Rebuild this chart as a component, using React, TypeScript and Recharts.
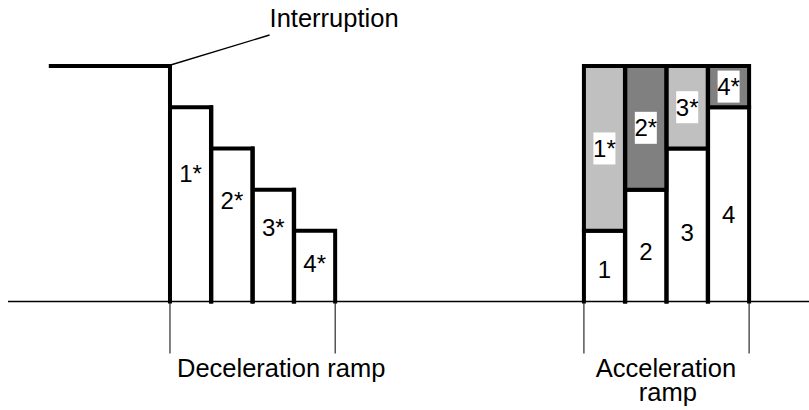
import React from 'react';
import { BarChart, Bar, XAxis, YAxis } from 'recharts';

// ---- data ----
const FULL_LEVEL = 100;
const PRE_SLOTS = ['p1', 'p2', 'p3'];
const DECEL_SLOTS = ['d1', 'd2', 'd3', 'd4'];
const GAP_SLOTS = ['g1', 'g2', 'g3', 'g4', 'g5', 'g6'];
const ACCEL_SLOTS = ['a1', 'a2', 'a3', 'a4'];

const DECEL_VALUES = [82.5, 65, 47.5, 30];
const DECEL_LABELS = ['1*', '2*', '3*', '4*'];

const ACCEL_BASE_VALUES = [30, 47.5, 65, 82.5];
const ACCEL_TOP_VALUES = [70, 52.5, 35, 17.5];
const ACCEL_BASE_LABELS = ['1', '2', '3', '4'];
const ACCEL_TOP_LABELS = ['1*', '2*', '3*', '4*'];
const ACCEL_TOP_SHADES = ['#c0c0c0', '#808080', '#c0c0c0', '#808080'];

const INTERRUPTION_LABEL = 'Interruption';
const DECEL_TITLE = 'Deceleration ramp';
const ACCEL_TITLE = ['Acceleration', 'ramp'];

type Row = {
  slot: string;
  role: 'pre' | 'decel' | 'gap' | 'accel';
  pos: number;
  count: number;
  level: number | null;
  decel: number | null;
  accelBase: number | null;
  accelTop: number | null;
};

const rows: Row[] = [
  ...PRE_SLOTS.map((s, i) => ({ slot: s, role: 'pre' as const, pos: i, count: PRE_SLOTS.length, level: FULL_LEVEL, decel: null, accelBase: null, accelTop: null })),
  ...DECEL_SLOTS.map((s, i) => ({ slot: s, role: 'decel' as const, pos: i, count: DECEL_SLOTS.length, level: null, decel: DECEL_VALUES[i], accelBase: null, accelTop: null })),
  ...GAP_SLOTS.map((s, i) => ({ slot: s, role: 'gap' as const, pos: i, count: GAP_SLOTS.length, level: null, decel: null, accelBase: null, accelTop: null })),
  ...ACCEL_SLOTS.map((s, i) => ({ slot: s, role: 'accel' as const, pos: i, count: ACCEL_SLOTS.length, level: null, decel: null, accelBase: ACCEL_BASE_VALUES[i], accelTop: ACCEL_TOP_VALUES[i] })),
];

// ---- styles ----
const FONT = '"Liberation Sans", Arial, Helvetica, sans-serif';
const THICK = 4;
const SMALL = 24;
const BIG = 25.5;
const BRACKET = 52;

const LevelShape = (p: any) => {
  const { x, y, width, height, payload } = p;
  if (!payload || payload.level == null || !height) return null;
  const last = payload.pos === payload.count - 1;
  const cx = x + width;
  const startX = payload.pos === 0 ? x + 3 : x - 1;
  return (
    <g>
      <path d={`M${startX},${y}H${x + width + (last ? 0 : 1)}`} stroke="#000" strokeWidth={THICK} fill="none" strokeLinecap="butt" />
      {last && (
        <g>
          <line x1={cx + 1} y1={y - 1} x2={cx + 100} y2={y - 31} stroke="#000" strokeWidth={1.4} />
          <text x={cx + 100} y={y - 39} fontFamily={FONT} fontSize={BIG} fill="#000">
            {INTERRUPTION_LABEL}
          </text>
        </g>
      )}
    </g>
  );
};

const DecelShape = (p: any) => {
  const { x, y, width, height, payload } = p;
  if (!payload || payload.decel == null || !height) return null;
  const base = y + height;
  const k = height / payload.decel;
  const prev = payload.pos === 0 ? FULL_LEVEL : DECEL_VALUES[payload.pos - 1];
  const leftTop = base - Math.max(prev, payload.decel) * k;
  const labelY = Math.max(y + 0.34 * height, y + 33);
  return (
    <g>
      <path
        d={`M${x},${base}V${leftTop}M${x},${y}H${x + width}V${base}`}
        stroke="#000"
        strokeWidth={THICK}
        fill="none"
        strokeLinecap="square"
        strokeLinejoin="miter"
      />
      <text x={x + width / 2} y={labelY + 0.358 * SMALL} textAnchor="middle" fontFamily={FONT} fontSize={SMALL} fill="#000">
        {DECEL_LABELS[payload.pos]}
      </text>
      {payload.pos === 0 && (
        <g>
          <line x1={x} y1={base} x2={x} y2={base + BRACKET} stroke="#000" strokeWidth={1} />
          <text x={x + 7} y={base + 75.5} fontFamily={FONT} fontSize={BIG} fill="#000">
            {DECEL_TITLE}
          </text>
        </g>
      )}
      {payload.pos === payload.count - 1 && (
        <line x1={x + width} y1={base} x2={x + width} y2={base + BRACKET} stroke="#000" strokeWidth={1} />
      )}
    </g>
  );
};

const AccelBaseShape = (p: any) => {
  const { x, y, width, height, payload } = p;
  if (!payload || payload.accelBase == null || !height) return null;
  const base = y + height;
  const groupW = width * payload.count;
  return (
    <g>
      <rect x={x} y={y} width={width} height={height} fill="#fff" />
      <path
        d={`M${x},${base}V${y}H${x + width}V${base}`}
        stroke="#000"
        strokeWidth={THICK}
        fill="none"
        strokeLinecap="square"
        strokeLinejoin="miter"
      />
      <text x={x + width / 2} y={y + 0.55 * height + 0.358 * SMALL} textAnchor="middle" fontFamily={FONT} fontSize={SMALL} fill="#000">
        {ACCEL_BASE_LABELS[payload.pos]}
      </text>
      {payload.pos === 0 && (
        <g>
          <line x1={x} y1={base} x2={x} y2={base + BRACKET} stroke="#000" strokeWidth={1} />
          <text x={x + groupW / 2} y={base + 75} textAnchor="middle" fontFamily={FONT} fontSize={BIG} fill="#000">
            {ACCEL_TITLE[0]}
          </text>
          <text x={x + groupW / 2 + 2} y={base + 99} textAnchor="middle" fontFamily={FONT} fontSize={BIG} fill="#000">
            {ACCEL_TITLE[1]}
          </text>
        </g>
      )}
      {payload.pos === payload.count - 1 && (
        <line x1={x + width} y1={base} x2={x + width} y2={base + BRACKET} stroke="#000" strokeWidth={1} />
      )}
    </g>
  );
};

const AccelTopShape = (p: any) => {
  const { x, y, width, height, payload } = p;
  if (!payload || payload.accelTop == null || !height) return null;
  const cy = y + height / 2;
  const cx = x + width / 2;
  return (
    <g>
      <rect x={x} y={y} width={width} height={height} fill={ACCEL_TOP_SHADES[payload.pos]} />
      <path
        d={`M${x},${y + height}V${y}H${x + width}V${y + height}Z`}
        stroke="#000"
        strokeWidth={THICK}
        fill="none"
        strokeLinecap="square"
        strokeLinejoin="miter"
      />
      <rect x={cx - 11} y={cy - 16} width={22} height={32} fill="#fff" />
      <text x={cx} y={cy + 0.358 * SMALL} textAnchor="middle" fontFamily={FONT} fontSize={SMALL} fill="#000">
        {ACCEL_TOP_LABELS[payload.pos]}
      </text>
    </g>
  );
};

export default function App() {
  return (
    <div style={{ position: 'absolute', left: 0, top: 0, width: 809, height: 410, background: '#fff' }}>
      <BarChart
        width={809}
        height={410}
        data={rows}
        margin={{ top: 66, right: 0, bottom: 78.5, left: 8 }}
        barCategoryGap={0}
        barGap={0}
      >
        <XAxis
          dataKey="slot"
          type="category"
          height={30}
          tick={false}
          tickLine={false}
          axisLine={{ stroke: '#000', strokeWidth: 1.5 }}
          padding={{ left: 37.8, right: 59.5 }}
        />
        <YAxis type="number" domain={[0, FULL_LEVEL]} hide />
        <Bar dataKey="level" stackId="s" isAnimationActive={false} shape={(p: any) => <LevelShape {...p} />} />
        <Bar dataKey="decel" stackId="s" isAnimationActive={false} shape={(p: any) => <DecelShape {...p} />} />
        <Bar dataKey="accelBase" stackId="s" isAnimationActive={false} shape={(p: any) => <AccelBaseShape {...p} />} />
        <Bar dataKey="accelTop" stackId="s" isAnimationActive={false} shape={(p: any) => <AccelTopShape {...p} />} />
      </BarChart>
    </div>
  );
}
